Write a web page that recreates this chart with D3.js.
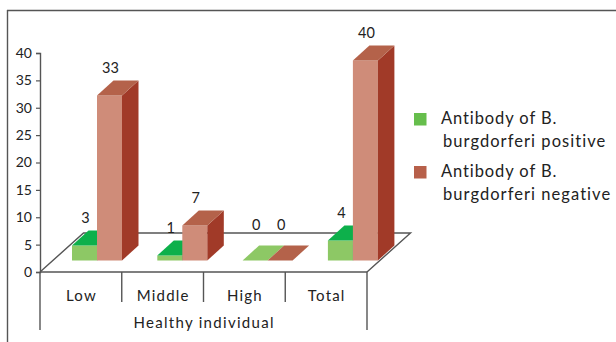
<!DOCTYPE html>
<html>
<head>
<meta charset="utf-8">
<script src="https://cdn.jsdelivr.net/npm/d3@7"></script>
<style>
  html, body { margin: 0; padding: 0; background: #fff; }
  svg { display: block; font-family: Lato, "Open Sans", sans-serif; }
</style>
</head>
<body>
<svg id="chart" width="616" height="342"></svg>
<script>
// Category labels along the floor
const categories = ["Low", "Middle", "High", "Total"];
const groupLabel = "Healthy individual";

// Series
const seriesKeys = ["positive", "negative"];
const seriesLegend = [
  ["Antibody of B.", "burgdorferi positive"],
  ["Antibody of B.", "burgdorferi negative"]
];
const positiveCounts = [3, 1, 0, 4];
const negativeCounts = [33, 7, 0, 40];

// Value axis ticks
const yTicks = [0, 5, 10, 15, 20, 25, 30, 35, 40];

// Face colours per series: front, top, side, and the flat cap drawn for zero values
const faceColors = {
  positive: { front: "#8dc865", top: "#0db04b", side: "#0a8f3c", flat: "#8dc865", legend: "#66be4c" },
  negative: { front: "#cf8c79", top: "#b4624a", side: "#a13a28", flat: "#b4624a", legend: "#b7604a" }
};

const svg = d3.select("#chart");
const ink = "#555";

// Outer frame (top and left edges)
svg.append("line").attr("x1", 7).attr("x2", 616).attr("y1", 10.5).attr("y2", 10.5)
  .attr("stroke", ink).attr("stroke-width", 1.4);
svg.append("line").attr("x1", 7.5).attr("x2", 7.5).attr("y1", 10).attr("y2", 342)
  .attr("stroke", ink).attr("stroke-width", 1.4);

// Floor / axis geometry
const floorFront = 272, plotLeft = 40, plotRight = 367;
const floorDepth = { dx: 43.5, dy: -39 };
const barDepth = { dx: 16.5, dy: -15 };

// Value axis scale (front wall) and the scale for bars standing mid-floor
const y = d3.scaleLinear().domain([0, 40]).range([floorFront, 53]);
const yBar = d3.scaleLinear().domain([0, 40]).range([260.5, 60.5]);

// Category axis along the front edge of the floor
const x = d3.scaleBand().domain(categories).range([plotLeft, plotRight]);

// Category slots on the bar plane (slightly wider due to perspective)
const pairWidth = 50;
const barStep = 85.3;
const barPlaneStart = 72 - (barStep - pairWidth) / 2;
const xBar = d3.scaleBand().domain(categories).range([barPlaneStart, barPlaneStart + barStep * categories.length]);
const xSeries = d3.scaleBand().domain(seriesKeys).range([0, pairWidth]);

// Floor outline (back edge and side diagonals)
const floor = svg.append("g").attr("stroke", ink).attr("stroke-width", 1.4).attr("fill", "none");
floor.append("path").attr("d", d3.line()([
  [plotLeft, floorFront],
  [plotLeft + floorDepth.dx, floorFront + floorDepth.dy],
  [plotRight + floorDepth.dx, floorFront + floorDepth.dy],
  [plotRight, floorFront]
]));

// Value axis
const yAxis = d3.axisLeft(y).tickValues(yTicks).tickSize(4).tickPadding(4);
const yg = svg.append("g").attr("transform", `translate(${plotLeft},0)`).call(yAxis);
yg.select(".domain").attr("stroke", ink).attr("stroke-width", 1.4);
yg.selectAll(".tick line").attr("stroke", ink).attr("stroke-width", 1.2);
yg.selectAll(".tick text").attr("font-size", 14).attr("fill", "#222").attr("font-family", "Lato, sans-serif");

// Category axis: front floor edge, dividers and the group line
const cat = svg.append("g").attr("stroke", ink).attr("stroke-width", 1.4);
cat.append("line").attr("x1", plotLeft).attr("x2", plotRight).attr("y1", floorFront).attr("y2", floorFront);
const dividers = categories.map(c => x(c)).concat([plotRight]);
cat.selectAll("line.div").data(dividers).join("line").attr("class", "div")
  .attr("x1", d => d).attr("x2", d => d)
  .attr("y1", floorFront)
  .attr("y2", (d, i) => (i === 0 || i === dividers.length - 1) ? 330 : 302);

svg.append("g").selectAll("text").data(categories).join("text")
  .attr("x", d => x(d) + x.bandwidth() / 2 + 0.6)
  .attr("y", 301)
  .attr("text-anchor", "middle")
  .attr("font-size", 15)
  .attr("letter-spacing", 1.2)
  .attr("fill", "#222")
  .text(d => d);

svg.append("text")
  .attr("x", (plotLeft + plotRight) / 2 + 0.6)
  .attr("y", 328)
  .attr("text-anchor", "middle")
  .attr("font-size", 15)
  .attr("letter-spacing", 1.3)
  .attr("fill", "#222")
  .text(groupLabel);

// Bars
const rows = categories.map((c, i) => ({ cat: c, positive: positiveCounts[i], negative: negativeCounts[i] }));
const bars = svg.append("g");
const labels = [];
rows.forEach(r => {
  seriesKeys.forEach(k => {
    const v = r[k];
    const col = faceColors[k];
    const x0 = xBar(r.cat) + (barStep - pairWidth) / 2 + xSeries(k);
    const w = xSeries.bandwidth();
    const base = yBar(0), top = yBar(v);
    const { dx, dy } = barDepth;
    if (v === 0) {
      bars.append("polygon")
        .attr("points", [[x0, base], [x0 + w, base], [x0 + w + dx, base + dy], [x0 + dx, base + dy]].join(" "))
        .attr("fill", col.flat);
    } else {
      bars.append("rect").attr("x", x0).attr("y", top).attr("width", w).attr("height", base - top)
        .attr("fill", col.front);
      bars.append("polygon")
        .attr("points", [[x0 + w, top], [x0 + w + dx, top + dy], [x0 + w + dx, base + dy], [x0 + w, base]].join(" "))
        .attr("fill", col.side);
      bars.append("polygon")
        .attr("points", [[x0, top], [x0 + w, top], [x0 + w + dx, top + dy], [x0 + dx, top + dy]].join(" "))
        .attr("fill", col.top);
    }
    // flat (zero) caps get their label lifted a little further
    labels.push({ x: x0 + w / 2 + 1, y: top - (v === 0 ? 31 : 23), v });
  });
});

// Value labels
svg.append("g").selectAll("text").data(labels).join("text")
  .attr("x", d => d.x).attr("y", d => d.y)
  .attr("text-anchor", "middle")
  .attr("font-size", 14.5)
  .attr("fill", "#222")
  .text(d => d.v);

// Legend
const legend = svg.append("g");
seriesKeys.forEach((k, i) => {
  const top = 113 + i * 53;
  legend.append("rect").attr("x", 414).attr("y", top).attr("width", 12.5).attr("height", 12.5)
    .attr("fill", faceColors[k].legend);
  legend.append("text").attr("x", 441).attr("y", top + 11).attr("font-size", 16.5)
    .attr("letter-spacing", 0.9).attr("fill", "#222")
    .text(seriesLegend[i][0]);
  legend.append("text").attr("x", 443).attr("y", top + 33.5).attr("font-size", 16.5)
    .attr("letter-spacing", 1.05).attr("fill", "#222")
    .text(seriesLegend[i][1]);
});
</script>
</body>
</html>
